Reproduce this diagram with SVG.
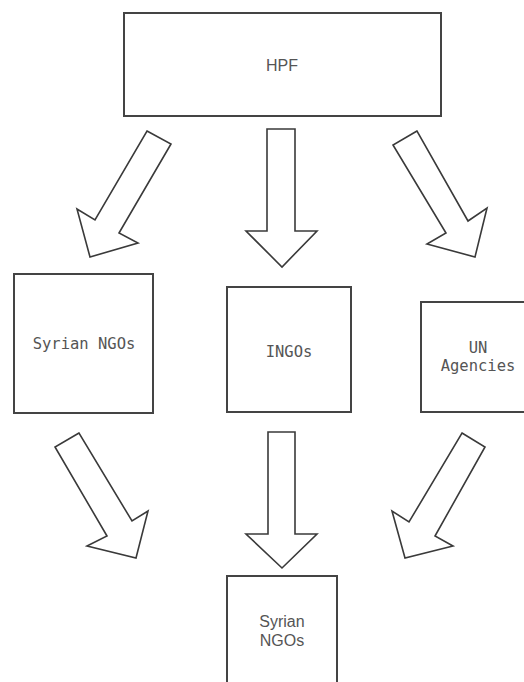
<svg xmlns="http://www.w3.org/2000/svg" width="524" height="682" viewBox="0 0 524 682">
<style>
.box{fill:#fff;stroke:#444;stroke-width:2}
.arr{fill:#fff;stroke:#3a3a3a;stroke-width:1.6;stroke-linejoin:miter}
.mono{font-family:"DejaVu Sans Mono",monospace;font-size:15.5px;fill:#555;text-anchor:middle}
.sans{font-family:"Liberation Sans",Arial,sans-serif;font-size:16px;fill:#555;text-anchor:middle}
</style>
<rect width="524" height="682" fill="#fff"/>
<g id="hpf"><rect class="box" x="124" y="13" width="317" height="103"/><text class="sans" x="282" y="71" font-size="15">HPF</text></g>
<g id="syrian-ngos-1"><rect class="box" x="14" y="274" width="139" height="139"/><text class="mono" x="84" y="349">Syrian NGOs</text></g>
<g id="ingos"><rect class="box" x="227" y="287" width="124" height="125"/><text class="mono" x="289" y="357">INGOs</text></g>
<g id="un-agencies"><rect class="box" x="421" y="302" width="106" height="110"/><text class="mono" x="478" y="353">UN</text><text class="mono" x="478" y="371">Agencies</text></g>
<g id="syrian-ngos-2"><rect class="box" x="227" y="576" width="110" height="115"/><text class="sans" x="282" y="627">Syrian</text><text class="sans" x="282" y="646">NGOs</text></g>
<g id="connectors">
<polygon class="arr" points="147,131 171,144 119,233 138,243 90,257 77,209 95,220"/>
<polygon class="arr" points="267,129 295,129 295,231 317,231 282,267 246,231 267,231"/>
<polygon class="arr" points="417,131 393,145 446,233 427,244 475,257 487,208 468,221"/>
<polygon class="arr" points="79,433 55,447 107,536 87,546 136,558 148,511 132,521"/>
<polygon class="arr" points="268,432 295,432 295,534 317,534 282,568 246,534 268,534"/>
<polygon class="arr" points="462,433 485,447 435,536 453,546 405,558 392,511 409,522"/>
</g>
</svg>
